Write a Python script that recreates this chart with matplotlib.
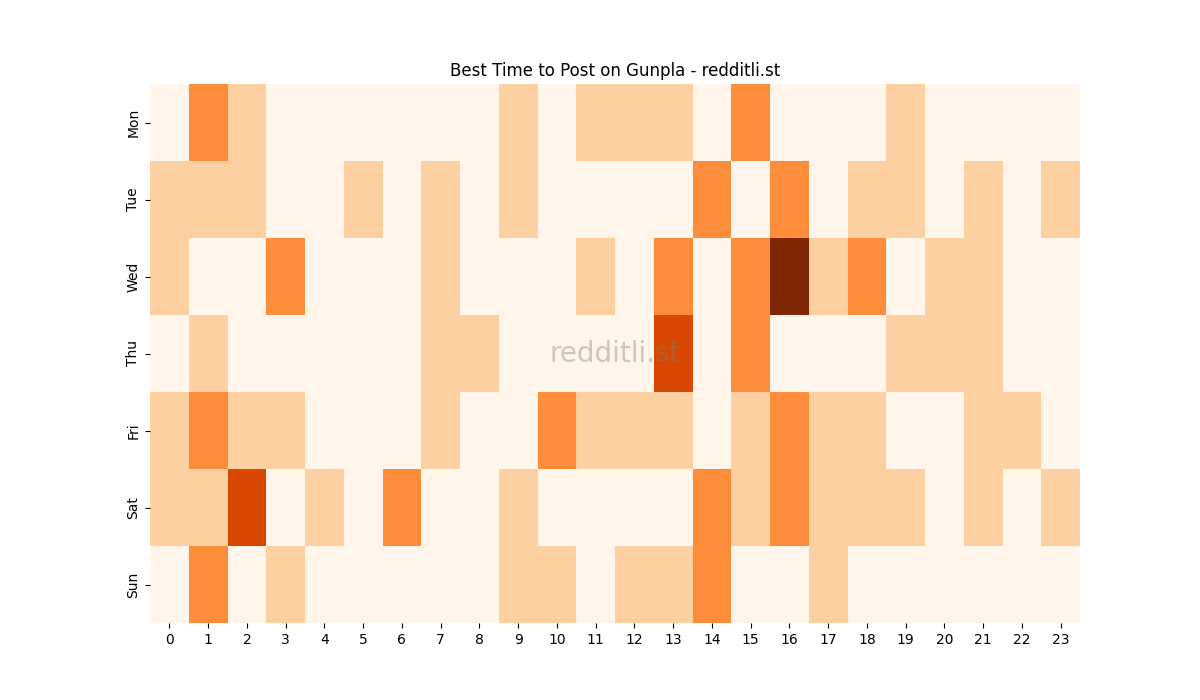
import numpy as np
import matplotlib
matplotlib.use('Agg')
import matplotlib.pyplot as plt
import seaborn as sns

days = ['Mon', 'Tue', 'Wed', 'Thu', 'Fri', 'Sat', 'Sun']
hours = list(range(24))

# post counts per weekday / hour
mon = [0, 2, 1, 0, 0, 0, 0, 0, 0, 1, 0, 1, 1, 1, 0, 2, 0, 0, 0, 1, 0, 0, 0, 0]
tue = [1, 1, 1, 0, 0, 1, 0, 1, 0, 1, 0, 0, 0, 0, 2, 0, 2, 0, 1, 1, 0, 1, 0, 1]
wed = [1, 0, 0, 2, 0, 0, 0, 1, 0, 0, 0, 1, 0, 2, 0, 2, 4, 1, 2, 0, 1, 1, 0, 0]
thu = [0, 1, 0, 0, 0, 0, 0, 1, 1, 0, 0, 0, 0, 3, 0, 2, 0, 0, 0, 1, 1, 1, 0, 0]
fri = [1, 2, 1, 1, 0, 0, 0, 1, 0, 0, 2, 1, 1, 1, 0, 1, 2, 1, 1, 0, 0, 1, 1, 0]
sat = [1, 1, 3, 0, 1, 0, 2, 0, 0, 1, 0, 0, 0, 0, 2, 1, 2, 1, 1, 1, 0, 1, 0, 1]
sun = [0, 2, 0, 1, 0, 0, 0, 0, 0, 1, 1, 0, 1, 1, 2, 0, 0, 1, 0, 0, 0, 0, 0, 0]

data = np.array([mon, tue, wed, thu, fri, sat, sun])

fig, ax = plt.subplots(figsize=(12, 7), dpi=100)
sns.heatmap(data, cmap='Oranges', cbar=False, ax=ax,
            xticklabels=hours, yticklabels=days)
ax.set_yticklabels(days, rotation=90, va='center')
ax.set_xticklabels(hours, rotation=0)
ax.set_title('Best Time to Post on Gunpla - redditli.st')

# watermark
ax.text(0.5, 0.5, 'redditli.st', transform=ax.transAxes, ha='center', va='center',
        fontsize=20, color='gray', alpha=0.4)

fig.savefig('out.png')
